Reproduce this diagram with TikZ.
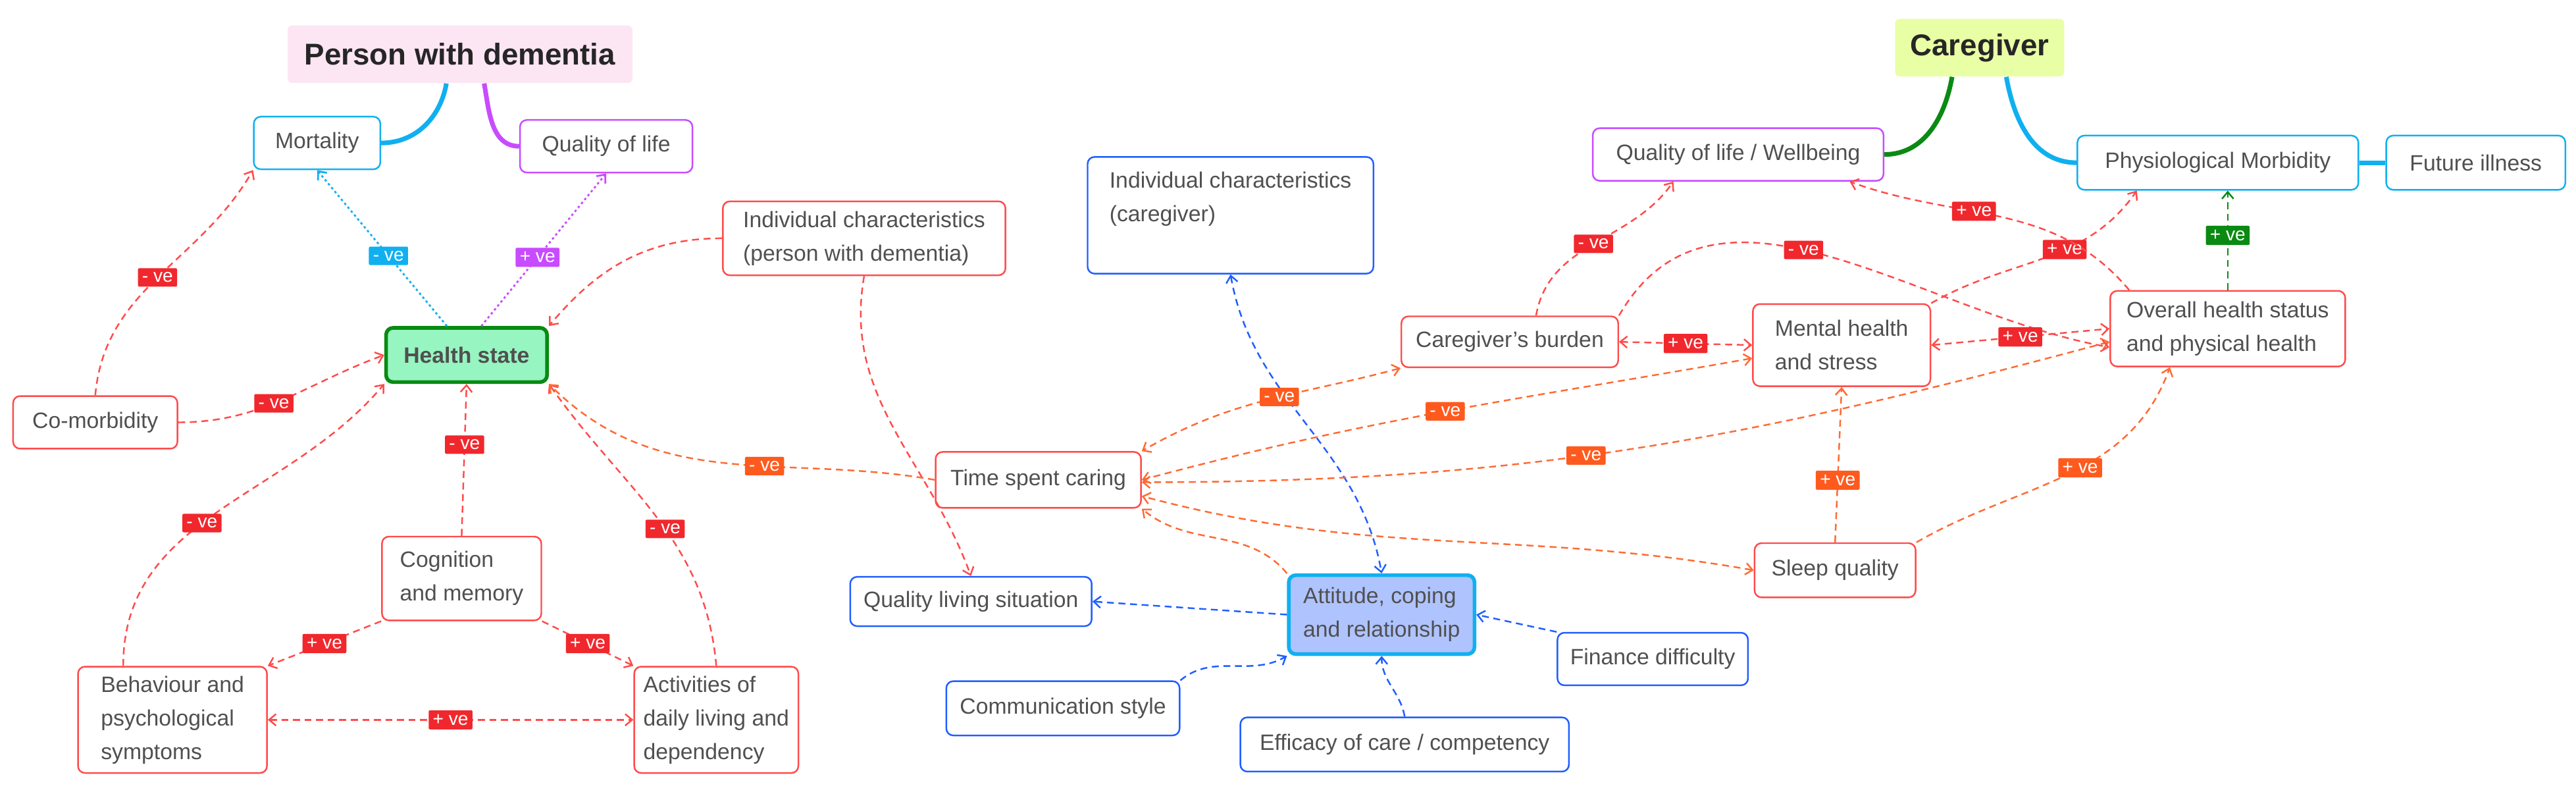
\documentclass[tikz,border=0pt]{standalone}
\usepackage{fontspec}
\setmainfont{Liberation Sans}
\usetikzlibrary{arrows.meta}
\definecolor{txt}{HTML}{505050}
\definecolor{lred}{HTML}{FF4B4B}
\definecolor{lorange}{HTML}{FF6A33}
\definecolor{tagred}{HTML}{F0282D}
\definecolor{tagorange}{HTML}{FF5A1E}
\definecolor{lblue}{HTML}{1F5FFF}
\definecolor{lcyan}{HTML}{10B0F0}
\definecolor{lmag}{HTML}{C84BFF}
\definecolor{lgreen}{HTML}{0A8A12}
\definecolor{hsfill}{HTML}{96F5C0}
\definecolor{attfill}{HTML}{AFC3FF}
\newcommand\px{0.2496mm}
\tikzset{
  box/.style={draw=#1, rounded corners=3pt, line width=0.7pt, fill=white, text=txt,
    font=\fontsize{9.6}{14.5}\selectfont, align=left, inner sep=4pt},
  head/.style={fill=#1, rounded corners=2pt, text=black!85,
    font=\bfseries\fontsize{13}{15}\selectfont, inner sep=6pt},
  tag/.style={fill=#1, text=white, font=\fontsize{8}{9}\selectfont, inner sep=1.8pt,
    rounded corners=0.6pt},
  arr/.style={draw=#1, line width=0.7pt, dash pattern=on 3pt off 2pt,
    -{Straight Barb[length=3pt,width=5pt]}},
  both/.style={arr=#1, {Straight Barb[length=3pt,width=5pt]}-{Straight Barb[length=3pt,width=5pt]}},
  dot/.style={draw=#1, line width=0.8pt, dash pattern=on 1pt off 1.2pt,
    -{Straight Barb[length=3pt,width=5pt]}},
  branch/.style={draw=#1, line width=2pt}
}
\begin{document}
\begin{tikzpicture}[x=\px, y=-\px]
  \useasboundingbox (0,0) rectangle (1568,483);
  % person with dementia side
  \node[head=magenta!10, minimum width=210*\px, minimum height=35*\px] (pwd) at (280,33) {Person with dementia};
  \node[box=lcyan, minimum width=77*\px, minimum height=32*\px] (mort) at (193,87) {Mortality};
  \node[box=lmag, minimum width=105*\px, minimum height=32*\px] (qol) at (369,89) {Quality of life};
  \node[box=lgreen, fill=hsfill, line width=1.6pt, font=\bfseries\fontsize{9.6}{13}\selectfont,
    minimum width=98*\px, minimum height=33*\px] (hs) at (284,216) {Health state};
  \node[box=lred, minimum width=172*\px, minimum height=45*\px] (icp) at (526,145) {Individual characteristics\\(person with dementia)};
  \node[box=lred, minimum width=100*\px, minimum height=32*\px] (comorb) at (58,257) {Co-morbidity};
  \node[box=lred, minimum width=97*\px, minimum height=51*\px] (cog) at (281,352) {Cognition\\and memory};
  \node[box=lred, minimum width=115*\px, minimum height=63*\px] (beh) at (105,438) {Behaviour and\\psychological\\symptoms};
  \node[box=lred, minimum width=78*\px, minimum height=63*\px] (adl) at (436,438) {Activities of\\daily living and\\dependency};
  % caregiver side
  \node[head=lime!35, minimum width=103*\px, minimum height=35*\px] (cg) at (1205,29) {Caregiver};
  \node[box=lmag, minimum width=177*\px, minimum height=32*\px] (qolw) at (1058,94) {Quality of life / Wellbeing};
  \node[box=lcyan, minimum width=171*\px, minimum height=33*\px] (phys) at (1350,99) {Physiological Morbidity};
  \node[box=lcyan, minimum width=109*\px, minimum height=33*\px] (fut) at (1507,99) {Future illness};
  \node[box=lblue, minimum width=174*\px, minimum height=71*\px, text depth=16pt] (icc) at (749,131) {Individual characteristics\\(caregiver)};
  \node[box=lred, minimum width=132*\px, minimum height=31*\px] (burd) at (919,208) {Caregiver’s burden};
  \node[box=lred, minimum width=108*\px, minimum height=50*\px] (mhs) at (1121,210) {Mental health\\and stress};
  \node[box=lred, minimum width=143*\px, minimum height=46*\px] (ovh) at (1356,200) {Overall health status\\and physical health};
  \node[box=lred, minimum width=125*\px, minimum height=34*\px] (tsc) at (632,292) {Time spent caring};
  \node[box=lred, minimum width=98*\px, minimum height=33*\px] (sleep) at (1117,347) {Sleep quality};
  \node[box=lblue, minimum width=147*\px, minimum height=30*\px] (qls) at (591,366) {Quality living situation};
  \node[box=lcyan, fill=attfill, line width=1.6pt, minimum width=113*\px, minimum height=48*\px] (att) at (841,374) {Attitude, coping\\and relationship};
  \node[box=lblue, minimum width=142*\px, minimum height=33*\px] (comm) at (647,431) {Communication style};
  \node[box=lblue, minimum width=200*\px, minimum height=33*\px] (eff) at (855,453) {Efficacy of care / competency};
  \node[box=lblue, minimum width=116*\px, minimum height=32*\px] (fin) at (1006,401) {Finance difficulty};
  % heading branches
  \draw[branch=lcyan] (pwd.south west)++(97,0) to[out=-100,in=0] (mort.east);
  \draw[branch=lmag] (pwd.south west)++(120,0) to[out=-80,in=180] (qol.west);
  \draw[branch=lgreen] (cg.south west)++(35,0) to[out=-100,in=0] (qolw.east);
  \draw[branch=lcyan] (cg.south west)++(68,0) to[out=-80,in=180] (phys.west);
  \draw[branch=lcyan] (phys) -- (fut);
  % health state links
  \draw[dot=lcyan] (hs.north)++(-12,0) -- node[tag=lcyan, pos=0.45] {- ve} (mort.south);
  \draw[dot=lmag] (hs.north)++(9,0) -- node[tag=lmag, pos=0.45] {+ ve} (qol.south);
  \draw[arr=lred] (comorb.north) to[out=85,in=-120] node[tag=tagred, pos=0.5] {- ve} (mort.south west);
  \draw[arr=lred] (comorb.east) to[out=0,in=-160] node[tag=tagred, pos=0.45] {- ve} (hs.west);
  \draw[arr=lred] (icp.west) to[out=180,in=50] (hs.north east);
  \draw[arr=lred] (icp.south) to[out=-100,in=110] (qls.north);
  \draw[arr=lred] (cog.north) -- node[tag=tagred, pos=0.6] {- ve} (hs.south);
  \draw[arr=lred] (beh.north west)++(28,0) to[out=90,in=-130] node[tag=tagred, pos=0.45] {- ve} (hs.south west);
  \draw[arr=lred] (adl.north) to[out=95,in=-55] node[tag=tagred, pos=0.45] {- ve} (hs.south east);
  \draw[arr=lred] (cog.south west) -- node[tag=tagred] {+ ve} (beh.north east);
  \draw[arr=lred] (cog.south east) -- node[tag=tagred] {+ ve} (adl.north west);
  \draw[both=lred] (beh.east) -- node[tag=tagred] {+ ve} (adl.west);
  \draw[arr=lorange] (tsc.west) to[out=170,in=-45] node[tag=tagorange, pos=0.4] {- ve} (hs.south east);
  % caregiver links
  \draw[arr=lorange] (att.north west) to[out=130,in=-40] (tsc.south east);
  \draw[both=lblue] (icc.south) to[out=-80,in=100] (att.north);
  \draw[arr=lblue] (att.west) -- (qls.east);
  \draw[arr=lblue] (comm.north east) to[out=40,in=-150] (att.south west);
  \draw[arr=lblue] (eff.north) to[out=100,in=-90] (att.south);
  \draw[arr=lblue] (fin.north west) -- (att.east);
  \draw[both=lorange] (burd.south west) to[out=-165,in=30] node[tag=tagorange, pos=0.45] {- ve} (tsc.north east);
  \draw[both=lorange] (mhs.west) ++(0,8) to[out=-170,in=15] node[tag=tagorange, pos=0.5] {- ve} (tsc.east);
  \draw[both=lorange] (ovh.west) ++(0,8) to[out=-165,in=0] node[tag=tagorange, pos=0.55] {- ve} ([yshift=-1pt]tsc.east);
  \draw[both=lorange] (sleep.west) to[out=170,in=-15] ([yshift=-7pt]tsc.east);
  \draw[arr=lorange] (sleep.north) -- node[tag=tagorange, pos=0.4] {+ ve} (mhs.south);
  \draw[arr=lorange] (sleep.north east) to[out=30,in=-110] node[tag=tagorange, pos=0.55] {+ ve} ([xshift=-25]ovh.south);
  \draw[arr=lred] (burd.north) ++(16,0) to[out=80,in=-125] node[tag=tagred, pos=0.5] {- ve} ([xshift=-28]qolw.south);
  \draw[arr=lred] (burd.north east) to[out=60,in=170] node[tag=tagred, pos=0.45] {- ve} ([yshift=-8]ovh.west);
  \draw[both=lred] (burd.east) -- node[tag=tagred] {+ ve} (mhs.west);
  \draw[both=lred] (mhs.east) -- node[tag=tagred] {+ ve} (ovh.west);
  \draw[arr=lred] (mhs.north east) to[out=30,in=-125] node[tag=tagred, pos=0.6] {+ ve} ([xshift=-35]phys.south);
  \draw[arr=lred] (ovh.north west)++(12,0) to[out=130,in=-20] node[tag=tagred, pos=0.6] {+ ve} ([xshift=-15]qolw.south east);
  \draw[arr=lgreen] (ovh.north) -- node[tag=lgreen, pos=0.55] {+ ve} (ovh.north |- phys.south);
\end{tikzpicture}
\end{document}
